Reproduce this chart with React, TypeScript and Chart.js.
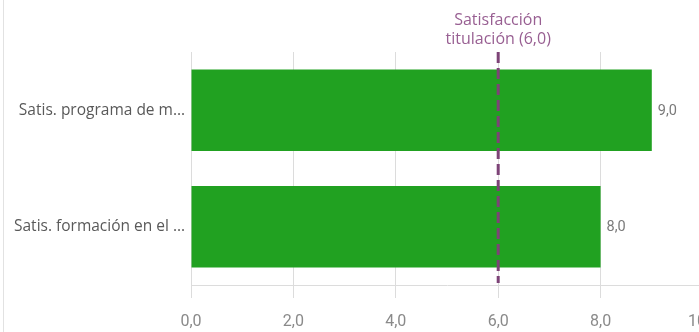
import React, { useEffect, useRef } from "react";
import { Chart, registerables } from "chart.js";

Chart.register(...registerables);

const categories = ["Satis. programa de m…", "Satis. formación en el …"];
const values = [9.0, 8.0];
const refValue = 6.0;
const refLabel = ["Satisfacción", "titulación (6,0)"];
const xTicks = [0, 2, 4, 6, 8, 10];

const fmt = (v: number) => v.toFixed(1).replace(".", ",");

const overlayPlugin = {
  id: "overlay",
  afterDatasetsDraw(chart: any) {
    const { ctx, chartArea, scales } = chart;
    const x = scales.x.getPixelForValue(refValue);
    ctx.save();
    const meta = chart.getDatasetMeta(0);
    ctx.font = "14.5px Roboto";
    ctx.fillStyle = "#7a7a7a";
    ctx.textAlign = "left";
    ctx.textBaseline = "middle";
    meta.data.forEach((bar: any, i: number) => {
      ctx.fillText(fmt(values[i]), bar.x + 6, bar.y + 1);
    });
    ctx.strokeStyle = "#7d4377";
    ctx.lineWidth = 3;
    ctx.setLineDash([11, 5]);
    ctx.beginPath();
    ctx.moveTo(x, chartArea.top);
    ctx.lineTo(x, chartArea.bottom - 2);
    ctx.stroke();
    ctx.setLineDash([]);
    ctx.fillStyle = "#985f92";
    ctx.font = "16px 'Open Sans'";
    ctx.textAlign = "center";
    ctx.textBaseline = "middle";
    ctx.fillText(refLabel[0], x, chartArea.top - 32);
    ctx.fillText(refLabel[1], x, chartArea.top - 13);
    ctx.strokeStyle = "#e2e2e2";
    ctx.lineWidth = 1;
    ctx.beginPath();
    ctx.moveTo(3.5, 0);
    ctx.lineTo(3.5, chart.height);
    ctx.stroke();
    ctx.restore();
  },
};

export default function App() {
  const ref = useRef<HTMLCanvasElement | null>(null);
  useEffect(() => {
    if (!ref.current) return;
    const chart = new Chart(ref.current, {
      type: "bar",
      data: {
        labels: categories,
        datasets: [
          {
            data: values,
            backgroundColor: "#21a121",
            borderWidth: 0,
            barPercentage: 0.7,
            categoryPercentage: 1,
          },
        ],
      },
      options: {
        indexAxis: "y",
        animation: false,
        responsive: false,
        maintainAspectRatio: false,
        layout: { padding: { top: 52, right: 17, left: 0, bottom: 0 } },
        plugins: { legend: { display: false }, tooltip: { enabled: false } },
        scales: {
          x: {
            min: 0,
            max: 10,
            afterBuildTicks: (s: any) => {
              s.ticks = xTicks.map((v) => ({ value: v }));
            },
            afterFit: (s: any) => {
              s.height = 47;
              s.paddingRight = 0;
              s.paddingLeft = 0;
            },
            grid: { color: "#dcdcdc", lineWidth: 1, tickLength: 13 },
            border: { color: "#dcdcdc" },
            ticks: {
              color: "#8a8a8a",
              font: { family: "Roboto", size: 16 },
              padding: 14,
              maxRotation: 0,
              callback: (v: any) => fmt(Number(v)),
            },
          },
          y: {
            afterFit: (s: any) => {
              s.width = 191;
            },
            grid: { display: false, drawTicks: false, tickLength: 0 },
            border: { color: "#dcdcdc" },
            ticks: {
              color: "#595959",
              font: { family: "'Open Sans'", size: 15.5 },
              padding: 6,
            },
          },
        },
      },
      plugins: [overlayPlugin],
    });
    return () => chart.destroy();
  }, []);
  return (
    <div style={{ position: "fixed", left: 0, top: 0, width: 699, height: 332, overflow: "hidden", background: "#fff" }}>
      <canvas ref={ref} width={720} height={332} style={{ display: "block" }} />
    </div>
  );
}
